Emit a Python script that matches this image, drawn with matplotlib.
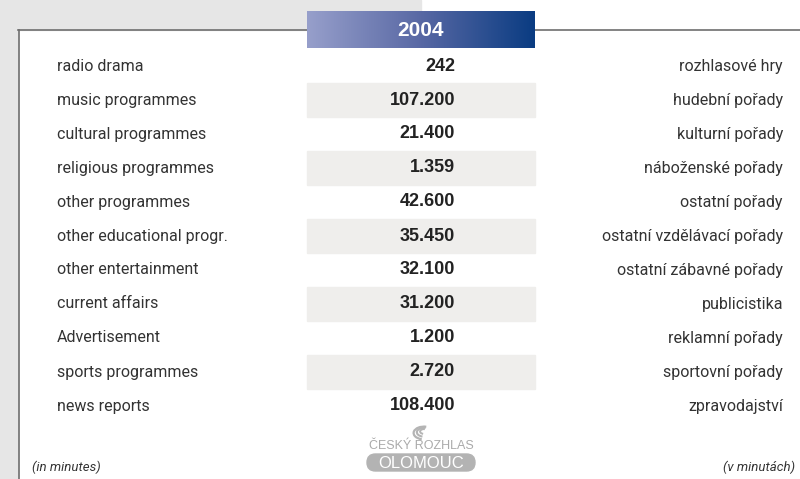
import numpy as np
import matplotlib
matplotlib.use('Agg')
import matplotlib.pyplot as plt
from matplotlib.patches import Rectangle, FancyBboxPatch, Arc
from matplotlib.colors import LinearSegmentedColormap

year = '2004'
labels_en = ['radio drama', 'music programmes', 'cultural programmes', 'religious programmes',
             'other programmes', 'other educational progr.', 'other entertainment',
             'current affairs', 'Advertisement', 'sports programmes', 'news reports']
labels_cz = ['rozhlasové hry', 'hudební pořady', 'kulturní pořady', 'náboženské pořady',
             'ostatní pořady', 'ostatní vzdělávací pořady', 'ostatní zábavné pořady',
             'publicistika', 'reklamní pořady', 'sportovní pořady', 'zpravodajství']
values = ['242', '107.200', '21.400', '1.359', '42.600', '35.450', '32.100',
          '31.200', '1.200', '2.720', '108.400']
unit_en = '(in minutes)'
unit_cz = '(v minutách)'

W, H = 800, 479
cond = ['Roboto', 'DejaVu Sans']
bold = ['Liberation Sans', 'DejaVu Sans']

fig = plt.figure(figsize=(W / 100, H / 100), dpi=100)
ax = fig.add_axes([0, 0, 1, 1])
ax.set_xlim(0, W)
ax.set_ylim(H, 0)
ax.axis('off')

# pozadi: sedy roh a levy pruh
ax.add_patch(Rectangle((0, 0), W, H, color='white', zorder=0))
ax.add_patch(Rectangle((0, 0), 421, 30, color='#e6e6e6', zorder=1))
ax.add_patch(Rectangle((0, 0), 18, H, color='#e6e6e6', zorder=1))
ax.plot([18, W], [29.5, 29.5], color='#6e6e6e', lw=1.2, zorder=2)
ax.plot([18.5, 18.5], [29.5, H], color='#6e6e6e', lw=1.2, zorder=2)

# hlavicka s prechodem
col_l, col_r = 307, 535
grad = LinearSegmentedColormap.from_list('hdr', ['#979fcb', '#5868a4', '#0a3c82'])
ax.imshow(np.linspace(0, 1, 256).reshape(1, -1), cmap=grad, aspect='auto',
          extent=(col_l, col_r, 48, 11), zorder=3)
ax.text((col_l + col_r) / 2, 30, year, color='white', fontsize=15, fontweight='bold',
        family=bold, ha='center', va='center', zorder=4)

row_h = 34
top = 49
for i, (en, v, cz) in enumerate(zip(labels_en, values, labels_cz)):
    yc = top + row_h * i + row_h / 2
    if i % 2 == 1:
        ax.add_patch(Rectangle((col_l, top + row_h * i), col_r - col_l, row_h,
                               color='#efeeec', zorder=2))
    ax.text(57, yc, en, fontsize=11.5, family=cond, color='#333333',
            ha='left', va='center', zorder=4)
    ax.text(455, yc, v, fontsize=13, family=bold, fontweight='bold', color='#222222',
            ha='right', va='center', zorder=4)
    ax.text(783, yc, cz, fontsize=11.5, family=cond, color='#333333',
            ha='right', va='center', zorder=4)

# logo
lx = 421
for r, w in [(8, 1.6), (5.5, 1.5), (3, 1.4)]:
    ax.add_patch(Arc((lx + 3, 433 - (8 - r) * 0.3), 2.6 * r, 1.6 * r, theta1=110, theta2=290,
                     color='#b4b4b4', lw=w, zorder=4))
ax.text(lx, 446, 'ČESKÝ ROZHLAS', fontsize=9, family=['Liberation Sans', 'DejaVu Sans'],
        color='#aaaaaa', ha='center', va='center', zorder=4)
ax.add_patch(FancyBboxPatch((367, 454), 108, 17, boxstyle='round,pad=0,rounding_size=8.5',
                            color='#b3b3b3', zorder=3))
ax.text(lx, 463, 'OLOMOUC', fontsize=12, family=['Liberation Sans', 'DejaVu Sans'],
        color='white', ha='center', va='center', zorder=4)

ax.text(32, 467, unit_en, fontsize=9.5, family=cond, style='italic', color='#333333',
        ha='left', va='center', zorder=4)
ax.text(795, 467, unit_cz, fontsize=9.5, family=cond, style='italic', color='#333333',
        ha='right', va='center', zorder=4)

fig.savefig('out.png', dpi=100)
